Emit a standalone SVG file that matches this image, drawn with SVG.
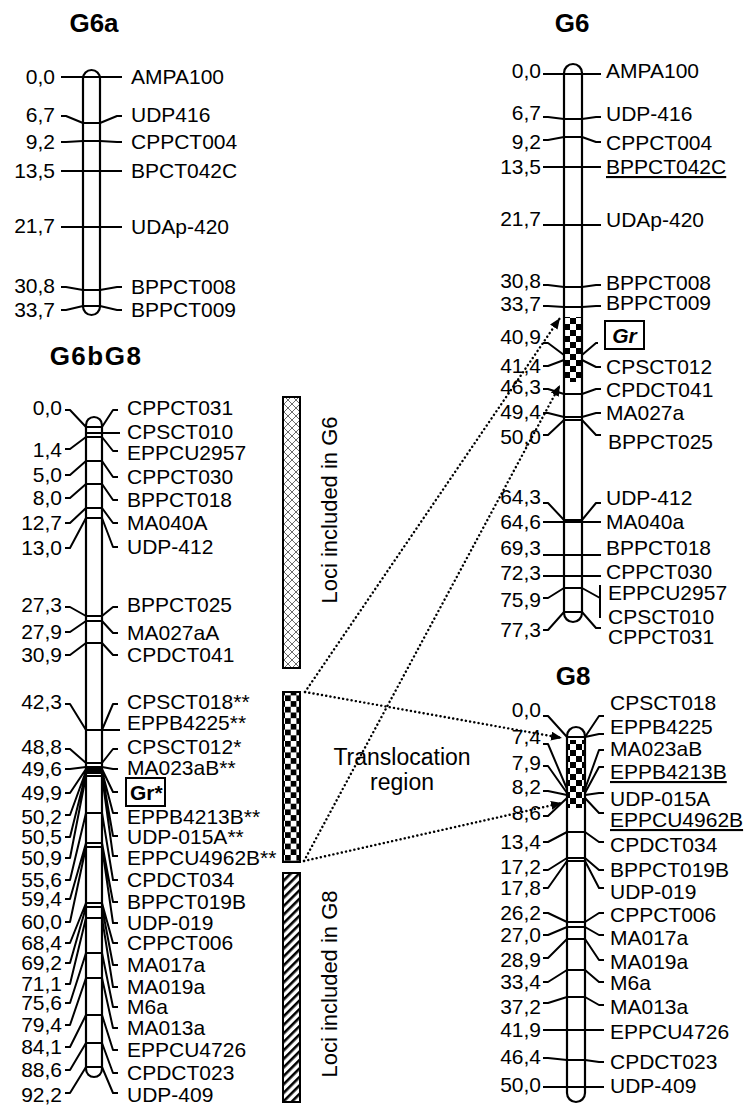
<svg xmlns="http://www.w3.org/2000/svg" width="746" height="1106" viewBox="0 0 746 1106">
<style>
text{font-family:"Liberation Sans",Arial,sans-serif;fill:#000}
.l{font-size:21px}
.e{text-anchor:end}
.t{font-size:26px;font-weight:bold;text-anchor:middle}
.chf{fill:#fff;stroke:none}
.cho{fill:none;stroke:#000;stroke-width:2.2}
.mk{fill:none;stroke:#000;stroke-width:2;stroke-linejoin:round}
.dot{fill:none;stroke:#000;stroke-width:2.4;stroke-dasharray:0.1 4.2;stroke-linecap:round}
.bar{stroke:#000;stroke-width:2}
.u{text-decoration:underline}
</style>
<defs>
<pattern id="chk" patternUnits="userSpaceOnUse" width="11.4" height="11.4">
<rect width="11.4" height="11.4" fill="#fff"/>
<rect width="5.7" height="5.7" fill="#000"/>
<rect x="5.7" y="5.7" width="5.7" height="5.7" fill="#000"/>
</pattern>
<pattern id="chk6" patternUnits="userSpaceOnUse" width="12" height="12">
<rect width="12" height="12" fill="#fff"/>
<rect width="6" height="6" fill="#000"/>
<rect x="6" y="6" width="6" height="6" fill="#000"/>
</pattern>
<pattern id="diag" patternUnits="userSpaceOnUse" width="6" height="6" patternTransform="rotate(45)">
<rect width="6" height="6" fill="#fff"/>
<rect width="2.6" height="6" fill="#000"/>
</pattern>
<pattern id="xh" patternUnits="userSpaceOnUse" width="8" height="8">
<rect width="8" height="8" fill="#fff"/>
<path d="M0,0L8,8M8,0L0,8" stroke="#444" stroke-width="0.8"/>
</pattern>
<marker id="ah" markerUnits="userSpaceOnUse" markerWidth="11" markerHeight="9" refX="11" refY="4.5" orient="auto">
<path d="M0,0L11,4.5L0,9z" fill="#000"/>
</marker>
</defs>
<rect width="746" height="1106" fill="#fff"/>

<g id="G6a">
<text class="t" x="94" y="32">G6a</text>
<rect class="chf" x="83" y="70" width="17" height="245" rx="8.5"/>
<path class="mk" d="M61,77H122M61,116h5L83,123H100L117,116h5M61,142h5L83,141H100L117,142h5M61,171H122M61,227H122M61,287h5L83,290H100L117,287h5M61,310h5L83,306H100L117,310h5"/>
<rect class="cho" x="83" y="70" width="17" height="245" rx="8.5"/>
<g class="l">
<text class="e" x="55" y="84">0,0</text><text x="131" y="84">AMPA100</text>
<text class="e" x="55" y="122">6,7</text><text x="131" y="122">UDP416</text>
<text class="e" x="55" y="149">9,2</text><text x="131" y="149">CPPCT004</text>
<text class="e" x="55" y="178">13,5</text><text x="131" y="178">BPCT042C</text>
<text class="e" x="55" y="233">21,7</text><text x="131" y="234">UDAp-420</text>
<text class="e" x="55" y="293">30,8</text><text x="131" y="294">BPPCT008</text>
<text class="e" x="55" y="317">33,7</text><text x="131" y="317">BPPCT009</text>
</g>
</g>

<g id="G6bG8">
<text class="t" x="96" y="365" style="letter-spacing:1.5px">G6bG8</text>
<rect class="chf" x="86" y="417" width="16" height="660" rx="8"/>
<path class="mk" d="M65,410h5L86,427H102L113,410h5M86,433H120M65,449h5L86,437H102L113,451h5M65,475h5L86,461H102L113,477h5M65,498h5L86,484H102L113,500h5M65,523h5L86,508H102L113,523h5M65,548h5L86,518H102L113,547h5M65,607h5L86,616H102L113,607h5M65,632h5L86,621H102L113,633h5M65,655h5L86,643H102L113,655h5M65,704h5L86,730H102L113,704h5M86,730H120M65,749h5L86,763H102L113,749h5M65,769h5L86,767H102L113,769h5M65,793h5L86,769H102L113,792h5M65,815h5L86,771H102L113,813h5M65,837h5L86,773H102L113,836h5M65,858h5L86,776H102L113,856h5M65,880h5L86,813H102L113,880h5M65,899h5L86,843H102L113,902h5M65,922h5L86,847H102L113,923h5M65,943h5L86,903H102L113,943h5M65,963h5L86,907H102L113,965h5M65,984h5L86,918H102L113,987h5M65,1003h5L86,953H102L113,1007h5M65,1025h5L86,978H102L113,1028h5M65,1047h5L86,1015H102L113,1050h5M65,1070h5L86,1043H102L113,1073h5M65,1093h5L86,1067H102L113,1093h5"/>
<rect class="cho" x="86" y="417" width="16" height="660" rx="8"/>
<rect x="126" y="778" width="39" height="28" fill="#fff" stroke="#000" stroke-width="2"/>
<text class="l" x="130" y="800" font-weight="bold">Gr*</text>
<g class="l">
<text class="e" x="62" y="415">0,0</text><text x="127" y="415">CPPCT031</text>
<text x="127" y="439">CPSCT010</text>
<text class="e" x="62" y="457">1,4</text><text x="127" y="460">EPPCU2957</text>
<text class="e" x="62" y="482">5,0</text><text x="127" y="484">CPPCT030</text>
<text class="e" x="62" y="505">8,0</text><text x="127" y="507">BPPCT018</text>
<text class="e" x="62" y="530">12,7</text><text x="127" y="530">MA040A</text>
<text class="e" x="62" y="555">13,0</text><text x="127" y="554">UDP-412</text>
<text class="e" x="62" y="612">27,3</text><text x="127" y="612">BPPCT025</text>
<text class="e" x="62" y="639">27,9</text><text x="127" y="640">MA027aA</text>
<text class="e" x="62" y="662">30,9</text><text x="127" y="662">CPDCT041</text>
<text class="e" x="62" y="709">42,3</text><text x="127" y="709">CPSCT018**</text>
<text x="127" y="730">EPPB4225**</text>
<text class="e" x="62" y="754">48,8</text><text x="127" y="754">CPSCT012*</text>
<text class="e" x="62" y="776">49,6</text><text x="127" y="775">MA023aB**</text>
<text class="e" x="62" y="800">49,9</text>
<text class="e" x="62" y="824">50,2</text><text x="127" y="824">EPPB4213B**</text>
<text class="e" x="62" y="844">50,5</text><text x="127" y="844">UDP-015A**</text>
<text class="e" x="62" y="865">50,9</text><text x="127" y="865">EPPCU4962B**</text>
<text class="e" x="62" y="887">55,6</text><text x="127" y="887">CPDCT034</text>
<text class="e" x="62" y="906">59,4</text><text x="127" y="909">BPPCT019B</text>
<text class="e" x="62" y="929">60,0</text><text x="127" y="930">UDP-019</text>
<text class="e" x="62" y="950">68,4</text><text x="127" y="950">CPPCT006</text>
<text class="e" x="62" y="970">69,2</text><text x="127" y="972">MA017a</text>
<text class="e" x="62" y="991">71,1</text><text x="127" y="994">MA019a</text>
<text class="e" x="62" y="1010">75,6</text><text x="127" y="1014">M6a</text>
<text class="e" x="62" y="1032">79,4</text><text x="127" y="1035">MA013a</text>
<text class="e" x="62" y="1054">84,1</text><text x="127" y="1057">EPPCU4726</text>
<text class="e" x="62" y="1077">88,6</text><text x="127" y="1080">CPDCT023</text>
<text class="e" x="62" y="1102">92,2</text><text x="127" y="1102">UDP-409</text>
</g>
</g>

<g id="bar-g6">
<rect class="bar" x="283" y="397" width="17" height="271" fill="url(#xh)"/>
<text class="l" transform="translate(337,510) rotate(-90)" text-anchor="middle" style="font-size:22px">Loci included in G6</text>
</g>
<g id="bar-trans">
<rect class="bar" x="283" y="692" width="17" height="170" fill="url(#chk)"/>
<text x="402" y="765" text-anchor="middle" style="font-size:23px">Translocation</text>
<text x="402" y="790" text-anchor="middle" style="font-size:23px">region</text>
</g>
<g id="bar-g8">
<rect class="bar" x="283" y="873" width="17" height="229" fill="url(#diag)"/>
<text class="l" transform="translate(337,984) rotate(-90)" text-anchor="middle" style="font-size:22px">Loci included in G8</text>
</g>

<g id="G6">
<text class="t" x="572" y="32">G6</text>
<rect class="chf" x="564" y="64" width="18" height="558" rx="9"/>
<path class="mk" d="M543,74H601M543,117h5L564,119H582L596,117h5M543,140h5L564,137H582L596,142h5M543,167H601M543,225H601M543,285h5L564,287H582L596,285h5M543,306h5L564,307H582L596,306h5M543,343h5L564,355H582L596,343h2M543,366h5L564,360H582L596,367h5M543,389h5L564,394H582L596,389h5M543,413h5L564,417H582L596,413h5M543,435h5L564,420H582L596,435h5M543,503h5L564,520H582L596,503h5M543,522H601M543,555H601M543,576H601M543,598h5L564,588H582L600,598M600,585V618M543,630h5L564,612H582L596,628h5"/>
<rect x="564" y="317" width="18" height="65" fill="url(#chk6)"/>
<rect class="cho" x="564" y="64" width="18" height="558" rx="9"/>
<rect x="605" y="321" width="39" height="28" fill="#fff" stroke="#000" stroke-width="2"/>
<text class="l" x="624.5" y="343" text-anchor="middle" font-weight="bold" font-style="italic">Gr</text>
<g class="l">
<text class="e" x="541" y="78">0,0</text><text x="606" y="78">AMPA100</text>
<text class="e" x="541" y="120">6,7</text><text x="606" y="121">UDP-416</text>
<text class="e" x="541" y="149">9,2</text><text x="606" y="150">CPPCT004</text>
<text class="e" x="541" y="174">13,5</text><text class="u" x="606" y="174">BPPCT042C</text>
<text class="e" x="541" y="226">21,7</text><text x="606" y="227">UDAp-420</text>
<text class="e" x="541" y="288">30,8</text><text x="606" y="290">BPPCT008</text>
<text class="e" x="541" y="311">33,7</text><text x="606" y="310">BPPCT009</text>
<text class="e" x="541" y="344">40,9</text>
<text class="e" x="541" y="373">41,4</text><text x="606" y="374">CPSCT012</text>
<text class="e" x="541" y="394">46,3</text><text x="606" y="397">CPDCT041</text>
<text class="e" x="541" y="419">49,4</text><text x="606" y="420">MA027a</text>
<text class="e" x="541" y="444">50,0</text><text x="608" y="449">BPPCT025</text>
<text class="e" x="541" y="504">64,3</text><text x="606" y="505">UDP-412</text>
<text class="e" x="541" y="529">64,6</text><text x="606" y="529">MA040a</text>
<text class="e" x="541" y="555">69,3</text><text x="606" y="555">BPPCT018</text>
<text class="e" x="541" y="580">72,3</text><text x="606" y="579">CPPCT030</text>
<text class="e" x="541" y="607">75,9</text><text x="608" y="600">EPPCU2957</text>
<text x="608" y="624">CPSCT010</text>
<text class="e" x="541" y="637">77,3</text><text x="608" y="644">CPPCT031</text>
</g>
</g>

<g id="G8">
<text class="t" x="573" y="685">G8</text>
<rect class="chf" x="567" y="727" width="18" height="375" rx="9"/>
<path class="mk" d="M543,716h5L567,737H585L599,716h5M585,737L599,734h5M543,744h5L567,789H585L599,750h5M543,766h5L567,793H585L599,767h5M543,791h5L567,795H585L599,793h5M543,816h5L567,798H585L599,813h5M543,842h5L567,832H585L599,842h5M543,870h5L567,858H585L599,870h5M543,888h5L567,861H585L599,888h5M543,913h5L567,922H585L599,913h5M543,935h5L567,927H585L599,935h5M543,958h5L567,939H585L599,960h5M543,982h5L567,970H585L599,982h5M543,1003h5L567,997H585L599,1005h5M543,1030H604M543,1058h5L567,1060H585L599,1062h5M543,1087H604"/>
<rect x="567" y="740" width="18" height="68" fill="url(#chk6)"/>
<rect class="cho" x="567" y="727" width="18" height="375" rx="9"/>
<g class="l">
<text class="e" x="541" y="717">0,0</text><text x="610" y="710">CPSCT018</text>
<text x="610" y="734">EPPB4225</text>
<text class="e" x="541" y="744">7,4</text><text x="610" y="756">MA023aB</text>
<text class="e" x="541" y="770">7,9</text><text class="u" x="610" y="779">EPPB4213B</text>
<text class="e" x="541" y="794">8,2</text><text x="610" y="806">UDP-015A</text>
<text class="e" x="541" y="820">8,6</text><text class="u" x="610" y="827">EPPCU4962B</text>
<text class="e" x="541" y="849">13,4</text><text x="610" y="852">CPDCT034</text>
<text class="e" x="541" y="874">17,2</text><text x="610" y="877">BPPCT019B</text>
<text class="e" x="541" y="895">17,8</text><text x="610" y="899">UDP-019</text>
<text class="e" x="541" y="920">26,2</text><text x="610" y="922">CPPCT006</text>
<text class="e" x="541" y="942">27,0</text><text x="610" y="945">MA017a</text>
<text class="e" x="541" y="967">28,9</text><text x="610" y="969">MA019a</text>
<text class="e" x="541" y="989">33,4</text><text x="610" y="990">M6a</text>
<text class="e" x="541" y="1014">37,2</text><text x="610" y="1014">MA013a</text>
<text class="e" x="541" y="1037">41,9</text><text x="610" y="1039">EPPCU4726</text>
<text class="e" x="541" y="1064">46,4</text><text x="610" y="1069">CPDCT023</text>
<text class="e" x="541" y="1092">50,0</text><text x="610" y="1093">UDP-409</text>
</g>
</g>

<g id="connectors">
<path class="dot" d="M305,692L560,318" marker-end="url(#ah)"/>
<path class="dot" d="M305,692L562,738" marker-end="url(#ah)"/>
<path class="dot" d="M304,861L560,385" marker-end="url(#ah)"/>
<path class="dot" d="M304,861L562,803" marker-end="url(#ah)"/>
</g>
</svg>
